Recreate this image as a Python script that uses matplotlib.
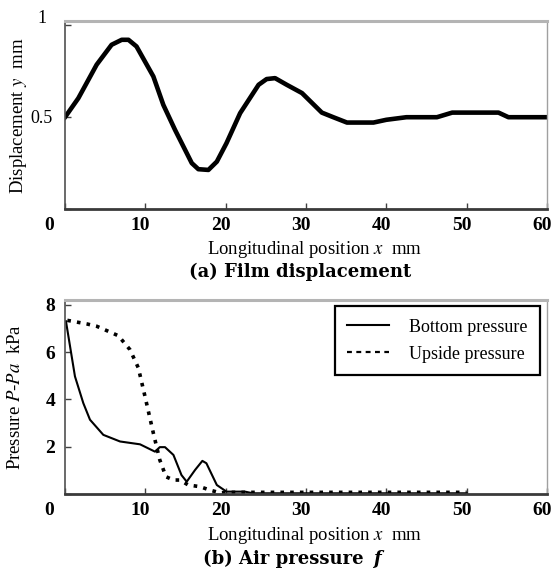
import matplotlib
matplotlib.use("Agg")
import matplotlib.pyplot as plt
import matplotlib.transforms as mtransforms

plt.rcParams['font.family'] = ['Liberation Serif', 'DejaVu Serif']
plt.rcParams['mathtext.fontset'] = 'stix'

# (a) film displacement
disp_x = [0, 1.66, 3.94, 5.8, 7.06, 7.9, 8.9, 11.0, 12.24, 13.7, 15.78, 16.6, 17.85,
          18.9, 20.1, 21.8, 24.1, 25.1, 26.15, 27.6, 29.5, 31.97, 33.4, 35.1, 38.4,
          40.0, 42.5, 46.3, 48.2, 53.96, 55.2, 60.0]
disp_y = [0.498, 0.601, 0.783, 0.891, 0.918, 0.918, 0.882, 0.719, 0.565, 0.429, 0.249,
          0.216, 0.212, 0.257, 0.357, 0.52, 0.674, 0.705, 0.71, 0.674, 0.629, 0.523,
          0.498, 0.469, 0.469, 0.484, 0.498, 0.498, 0.523, 0.523, 0.498, 0.498]

# (b) air pressure
bottom_x = [0.12, 1.24, 2.28, 3.11, 4.77, 6.85, 9.34, 11.2, 11.8, 12.45, 13.5, 14.5,
            15.15, 16.2, 17.1, 17.6, 18.9, 20.1, 22.4, 23.4, 50.0]
bottom_p = [7.30, 4.97, 3.84, 3.14, 2.5, 2.22, 2.1, 1.79, 1.98, 1.98, 1.65, 0.8,
            0.52, 1.02, 1.40, 1.3, 0.38, 0.1, 0.1, 0.03, 0.03]

upside_x = [0.29, 2.7, 3.95, 5.1, 6.64, 8.09, 9.13, 9.96, 11.0, 11.8, 12.57, 13.5,
            14.3, 15.35, 16.8, 18.0, 19.3, 20.5, 50.0]
upside_p = [7.34, 7.19, 7.09, 6.92, 6.69, 6.10, 5.33, 4.12, 2.57, 1.44, 0.73, 0.59,
            0.59, 0.38, 0.31, 0.17, 0.05, 0.07, 0.07]

x_ticks = [0, 10, 20, 30, 40, 50, 60]

W, H = 554, 580
fig = plt.figure(figsize=(W / 100, H / 100), dpi=100)


def px_axes(left, top, right, bottom):
    return fig.add_axes([left / W, 1 - bottom / H, (right - left) / W, (bottom - top) / H])


def style_axes(ax):
    ax.spines['top'].set_color('#b4b4b4')
    ax.spines['top'].set_linewidth(2.2)
    ax.spines['right'].set_color('#a0a0a0')
    ax.spines['right'].set_linewidth(1.0)
    ax.spines['left'].set_color('#505050')
    ax.spines['left'].set_linewidth(1.2)
    ax.spines['bottom'].set_color('#3a3a3a')
    ax.spines['bottom'].set_linewidth(2.0)
    ax.tick_params(direction='in', length=4, width=1, color='#404040')
    ax.set_xlim(0, 60)
    ax.set_xticks(x_ticks)
    ax.set_xticklabels([str(t) for t in x_ticks], fontsize=14, fontweight='bold')
    ax.tick_params(axis='x', pad=6)
    for lab in ax.get_xticklabels():
        dx = -16 if lab.get_text() == '0' else -5
        lab.set_transform(lab.get_transform() +
                          mtransforms.ScaledTranslation(dx / 100, 0, fig.dpi_scale_trans))


# top panel
ax1 = px_axes(65, 21, 547, 209)
ax1.plot(disp_x, disp_y, color='black', linewidth=3.3, solid_joinstyle='round')
style_axes(ax1)
ax1.set_ylim(0, 1.02)
ax1.set_yticks([0, 0.5, 1.0])
ax1.set_yticklabels(['', '0.5', '1'], fontsize=13)
ax1.tick_params(axis='y', pad=9)
for lab in ax1.get_yticklabels():
    if lab.get_text() == '1':
        lab.set_transform(lab.get_transform() +
                          mtransforms.ScaledTranslation(-6 / 100, 8 / 100, fig.dpi_scale_trans))

fig.text(19 / W, 1 - 116 / H, 'Displacement $y$  mm', rotation=90, fontsize=13.5,
         ha='center', va='center')
fig.text(315 / W, 1 - 250 / H, 'Longitudinal position $x$  mm', fontsize=13.5,
         ha='center', va='center')
fig.text(300 / W, 1 - 272 / H, '(a) Film displacement', family='DejaVu Serif',
         fontweight='bold', fontsize=13, ha='center', va='center')

# bottom panel
ax2 = px_axes(65, 300, 547, 494)
ax2.plot(bottom_x, bottom_p, color='black', linewidth=1.5, label='Bottom pressure')
ax2.plot(upside_x, upside_p, color='black', linewidth=2.6, linestyle=(0, (1, 1.7)),
         dash_capstyle='butt', label='Upside pressure')
style_axes(ax2)
ax2.set_ylim(0, 8.2)
ax2.set_yticks([0, 2, 4, 6, 8])
ax2.set_yticklabels(['', '2', '4', '6', '8'], fontsize=14, fontweight='bold')
ax2.tick_params(axis='y', pad=7)

leg = ax2.legend(loc='upper right', bbox_to_anchor=(0.985, 0.969), borderaxespad=0,
                 fontsize=13, handlelength=2.3, handletextpad=1.1, labelspacing=0.55,
                 borderpad=0.7, fancybox=False, framealpha=1)
leg.get_frame().set_edgecolor('black')
leg.get_frame().set_linewidth(1.6)
# legend handle for the dotted series reads as short dashes in the reference
leg.get_lines()[1].set_linestyle((0, (2.2, 2.0)))
leg.get_lines()[1].set_linewidth(1.6)

fig.text(16 / W, 1 - 397 / H, 'Pressure $P$-$Pa$  kPa', rotation=90, fontsize=13.5,
         ha='center', va='center')
fig.text(315 / W, 1 - 536 / H, 'Longitudinal position $x$  mm', fontsize=13.5,
         ha='center', va='center')
fig.text(364 / W, 1 - 559 / H, '(b) Air pressure', family='DejaVu Serif',
         fontweight='bold', fontsize=13, ha='right', va='center')
fig.text(373 / W, 1 - 559 / H, 'f', family='DejaVu Serif', fontweight='bold',
         fontstyle='italic', fontsize=13, ha='left', va='center')

fig.savefig('out.png', dpi=100)
